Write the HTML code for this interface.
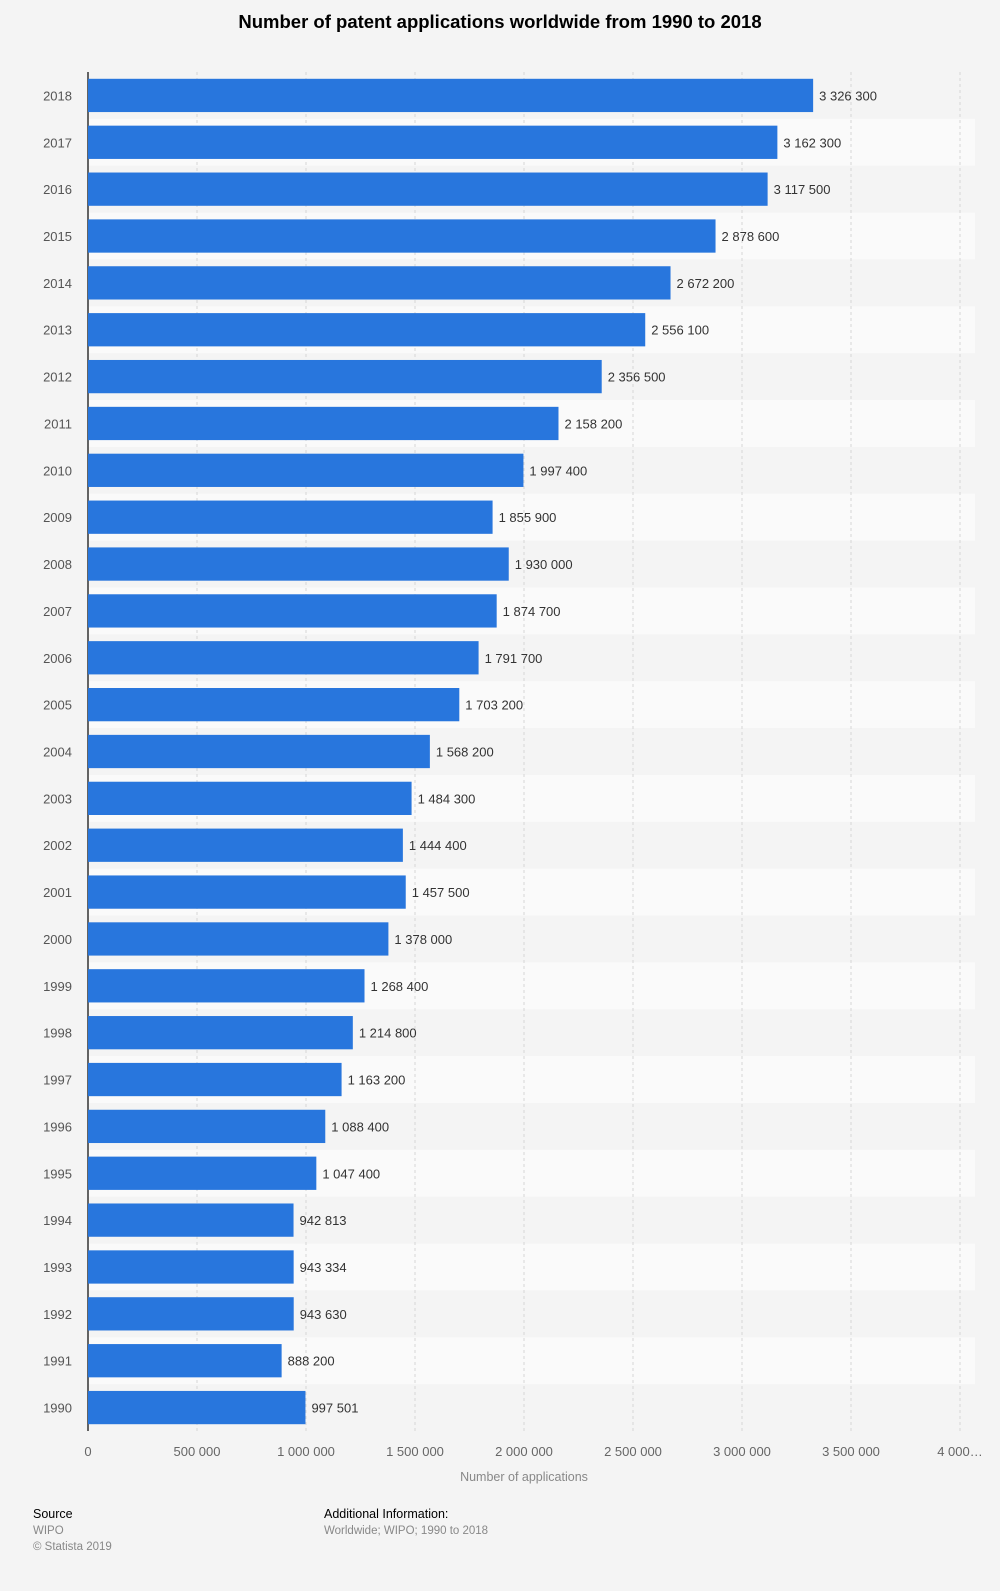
<!DOCTYPE html>
<html><head><meta charset="utf-8"><style>
body{margin:0;background:#f4f4f4;font-family:"Liberation Sans",sans-serif;}
svg{display:block}
</style></head><body>
<svg id="chart" width="1000" height="1591" xmlns="http://www.w3.org/2000/svg">
<rect width="1000" height="1591" fill="#f4f4f4"/>
<text x="500" y="28" text-anchor="middle" font-size="18.5" font-weight="bold" fill="#000">Number of patent applications worldwide from 1990 to 2018</text>
<g id="bands"></g><g id="grid"></g><g id="bars"></g><g id="labels"></g>
<text x="524" y="1481" text-anchor="middle" font-size="12.5" fill="#888">Number of applications</text>
<text x="33" y="1518" font-size="12.5" fill="#000">Source</text>
<text x="33" y="1534" font-size="11.5" fill="#888">WIPO</text>
<text x="33" y="1550" font-size="11.5" fill="#888">© Statista 2019</text>
<text x="324" y="1518" font-size="12.5" fill="#000">Additional Information:</text>
<text x="324" y="1534" font-size="11.5" fill="#888">Worldwide; WIPO; 1990 to 2018</text>
</svg>
<script>
const years=[2018,2017,2016,2015,2014,2013,2012,2011,2010,2009,2008,2007,2006,2005,2004,2003,2002,2001,2000,1999,1998,1997,1996,1995,1994,1993,1992,1991,1990];
const values=[3326300,3162300,3117500,2878600,2672200,2556100,2356500,2158200,1997400,1855900,1930000,1874700,1791700,1703200,1568200,1484300,1444400,1457500,1378000,1268400,1214800,1163200,1088400,1047400,942813,943334,943630,888200,997501];
const ticks=[0,500000,1000000,1500000,2000000,2500000,3000000,3500000,4000000];
const tickLabels=["0","500 000","1 000 000","1 500 000","2 000 000","2 500 000","3 000 000","3 500 000","4 000…"];
const NS="http://www.w3.org/2000/svg";
const x0=88,x1=960,yTop=72,yBot=1431,maxV=4000000;
const pitch=(yBot-yTop)/years.length;
const xs=v=>x0+(x1-x0)*v/maxV;
const yc=i=>yTop+pitch*(i+0.5);
function mk(tag,attrs,parent){const e=document.createElementNS(NS,tag);for(const k in attrs)e.setAttribute(k,attrs[k]);document.getElementById(parent).appendChild(e);return e;}
const fmt=v=>String(v).replace(/\B(?=(\d{3})+(?!\d))/g," ");
years.forEach((y,i)=>{
  if(i%2===1){const b=mk('rect',{x:x0,y:yTop+pitch*i,width:975-x0,height:pitch,fill:'#fafafa'},'bands');
  
  }
});
ticks.forEach((t,i)=>{
  if(i>0){const l=mk('line',{x1:xs(t),x2:xs(t),y1:yTop,y2:yBot,stroke:'#d6d6d6','stroke-dasharray':'3,3'},'grid');
  
  }
  const tx=mk('text',{x:xs(t),y:1456,'text-anchor':'middle','font-size':13,fill:'#666'},'labels');
  tx.textContent=tickLabels[i];
  
  
});
const ax=mk('line',{x1:x0,x2:x0,y1:yTop,y2:yBot,stroke:'#333','stroke-width':1.5},'grid');


years.forEach((y,i)=>{
  const h=pitch*0.71;
  const r=mk('rect',{x:x0,y:yc(i)-h/2,width:xs(values[i])-x0,height:h,fill:'#2876dd'},'bars');
  
  
  const yl=mk('text',{x:72,y:yc(i)+5,'text-anchor':'end','font-size':13,fill:'#555'},'labels');
  yl.textContent=y;
  
  
  const vl=mk('text',{x:xs(values[i])+6,y:yc(i)+5,'font-size':13,fill:'#333'},'labels');
  vl.textContent=fmt(values[i]);
  
  
});
</script>
</body></html>
